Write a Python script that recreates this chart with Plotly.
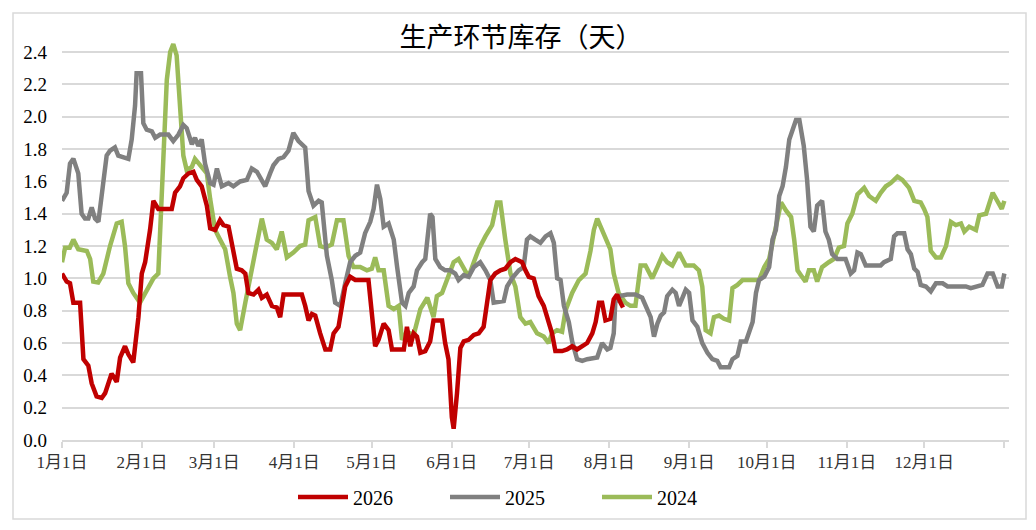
import plotly.graph_objects as go

# day of year (0 = Jan 1) and values
days_2026 = [0, 1.8, 3.1, 4.4, 7, 8.3, 10.2, 11.5, 13.4, 15.4, 16.7, 17.9, 19.2, 21.2, 22.5, 24.4, 25.7, 27.6,
             29.6, 30.9, 32.2, 34.1, 35.4, 37.3, 42.5, 43.8, 45.7, 47, 49, 50.9, 52.2, 54.1, 56.1, 57.4, 59.3,
             61.2, 62.5, 64.5, 65.8, 67.7, 69.6, 71, 72.2, 74.2, 76.1, 77.4, 79.3, 81.3, 83.2, 84.5, 85.8, 92.9,
             94.2, 95.5, 96.8, 98.1, 100, 102, 103.9, 105.2, 107.1, 108.4, 109.7, 111.6, 113.6, 118.7, 120,
             121.3, 122.6, 124.6, 126.5, 127.8, 132.4, 133.6, 134.9, 136.2, 137.5, 138.8, 140.7, 142.6, 143.9,
             147.2, 148.4, 149.7, 151, 151.7, 153, 154.3, 155.6, 157.5, 159.5, 161.4, 163.3, 164.6, 165.9,
             167.8, 169.8, 171.7, 173.7, 175.6, 178.2, 179.5, 180.8, 182.7, 184.6, 186.6, 188.5, 189.8, 191.1,
             193.7, 195.6, 197.6, 199.5, 201.5, 203.4, 205.4, 206.7, 208, 209.2, 210.5, 212.4, 213.7, 215,
             216.3, 217.3]
vals_2026 = [1.03, 0.98, 0.97, 0.85, 0.85, 0.50, 0.46, 0.35, 0.27, 0.26, 0.29, 0.36, 0.41, 0.36, 0.51, 0.58,
             0.53, 0.48, 0.76, 1.03, 1.10, 1.30, 1.48, 1.43, 1.43, 1.53, 1.57, 1.62, 1.65, 1.66, 1.61, 1.57,
             1.45, 1.31, 1.30, 1.36, 1.33, 1.32, 1.22, 1.06, 1.05, 1.03, 0.91, 0.90, 0.93, 0.88, 0.90, 0.83,
             0.82, 0.76, 0.90, 0.90, 0.83, 0.74, 0.78, 0.77, 0.66, 0.56, 0.56, 0.66, 0.70, 0.81, 0.95, 1.01,
             0.99, 0.99, 0.78, 0.58, 0.62, 0.72, 0.68, 0.56, 0.56, 0.70, 0.58, 0.66, 0.64, 0.54, 0.55, 0.61,
             0.74, 0.74, 0.60, 0.50, 0.14, 0.07, 0.29, 0.57, 0.61, 0.62, 0.65, 0.66, 0.70, 0.87, 0.99, 1.03,
             1.05, 1.06, 1.10, 1.12, 1.10, 1.05, 1.01, 1.00, 0.89, 0.83, 0.72, 0.66, 0.55, 0.55, 0.56, 0.58,
             0.56, 0.58, 0.60, 0.66, 0.73, 0.85, 0.85, 0.74, 0.75, 0.87, 0.90, 0.85, 0.82]

days_2025 = [0, 1.8, 3.1, 4.4, 6.3, 7.6, 8.9, 10.2, 11.5, 12.8, 14.1, 15.4, 17.3, 18.6, 20.5, 21.8, 23.8, 25.7,
             27, 28.3, 28.9, 30.6, 31.5, 32.8, 34.8, 36.1, 38, 41.2, 43.1, 45.1, 47, 48.3, 50.3, 51.5, 52.8,
             54.1, 55.4, 57.4, 58.7, 60, 61.9, 64.5, 66.4, 69, 71.6, 73.5, 75.5, 78.7, 80.6, 81.9, 83.9, 85.8,
             87.7, 89.6, 91.6, 94.2, 95.5, 97.4, 99.4, 100.6, 102.6, 104.5, 105.8, 107.8, 109.7, 111.6, 113.6,
             115.5, 117.4, 119.4, 120.7, 122, 123.3, 124.6, 126.5, 128.5, 129.8, 131.7, 133, 134.3, 136.2,
             137.5, 139.5, 140.7, 142.6, 143.5, 144.6, 146.5, 148.4, 150.4, 152.3, 153.6, 155.6, 157.5, 159.5,
             162, 164, 165.9, 167.2, 171.1, 172.4, 174.3, 176.9, 178.8, 180.1, 181.4, 183.3, 185.3, 187.3,
             189.2, 190.5, 191.8, 193.1, 194.4, 196.3, 197.6, 199.5, 201.5, 203.4, 207.3, 209.2, 211.2, 212.4,
             213.7, 214.3, 215.6, 218.9, 222.1, 224.7, 226.7, 228, 229.3, 230.6, 231.9, 233.2, 234.4, 236.4,
             237.7, 239, 240.3, 241.6, 242.9, 244.2, 246.1, 248, 250, 251.9, 253.8, 255.1, 258.4, 259.7, 261.6,
             262.9, 264.9, 266.2, 267.5, 268.8, 270, 272, 273.9, 275.2, 276.5, 277.8, 279.1, 280.4, 281.7, 283,
             284.3, 285.6, 287.3, 288.6, 289.9, 291.2, 292.5, 294.4, 295.7, 297, 298.3, 300.3, 303.5, 305.5,
             306.8, 308.1, 309.4, 311.3, 317.1, 318.4, 321, 322.3, 323.6, 326.2, 327.5, 328.8, 330.1, 331.4,
             332.6, 334.6, 336.5, 338.5, 341.1, 343, 350.1, 352, 354.6, 356.5, 358.5, 360.5, 362.4, 364, 365]
vals_2025 = [1.48, 1.53, 1.71, 1.74, 1.65, 1.40, 1.37, 1.37, 1.44, 1.37, 1.35, 1.51, 1.76, 1.79, 1.81, 1.76,
             1.75, 1.74, 1.86, 2.07, 2.27, 2.27, 1.96, 1.92, 1.91, 1.87, 1.89, 1.89, 1.85, 1.89, 1.95, 1.93,
             1.83, 1.87, 1.82, 1.86, 1.71, 1.59, 1.58, 1.68, 1.57, 1.59, 1.57, 1.60, 1.61, 1.68, 1.66, 1.57,
             1.65, 1.70, 1.74, 1.75, 1.79, 1.90, 1.85, 1.81, 1.54, 1.45, 1.48, 1.47, 1.14, 0.99, 0.85, 0.83,
             0.97, 1.10, 1.14, 1.16, 1.28, 1.35, 1.43, 1.58, 1.49, 1.32, 1.34, 1.24, 1.07, 0.85, 0.83, 0.91,
             0.95, 1.05, 1.10, 1.12, 1.40, 1.38, 1.12, 1.07, 1.05, 1.05, 1.03, 0.99, 1.02, 1.01, 1.07, 1.10,
             1.05, 0.99, 0.85, 0.86, 0.95, 1.00, 1.05, 1.07, 1.24, 1.26, 1.24, 1.22, 1.26, 1.28, 1.22, 1.00,
             0.99, 0.83, 0.73, 0.61, 0.50, 0.49, 0.50, 0.51, 0.60, 0.56, 0.57, 0.66, 0.85, 0.89, 0.90, 0.90,
             0.88, 0.81, 0.76, 0.64, 0.72, 0.77, 0.79, 0.89, 0.93, 0.91, 0.83, 0.88, 0.93, 0.91, 0.74, 0.70,
             0.60, 0.54, 0.50, 0.49, 0.45, 0.45, 0.50, 0.52, 0.61, 0.61, 0.67, 0.73, 0.91, 0.99, 1.01, 1.07,
             1.24, 1.30, 1.51, 1.57, 1.69, 1.86, 1.92, 1.98, 1.98, 1.82, 1.61, 1.32, 1.29, 1.45, 1.48, 1.29,
             1.24, 1.15, 1.12, 1.12, 1.03, 1.05, 1.16, 1.15, 1.08, 1.08, 1.10, 1.12, 1.26, 1.28, 1.28, 1.18,
             1.15, 1.06, 1.04, 0.96, 0.95, 0.92, 0.97, 0.97, 0.95, 0.95, 0.94, 0.95, 0.96, 1.03, 1.03, 0.95,
             0.95, 1.03]

days_2024 = [0, 1.2, 3, 4.4, 6.3, 9.6, 10.9, 12.1, 14, 16, 18.6, 21.2, 23.1, 24.4, 25.7, 27.6, 30.2, 32.8,
             35.4, 37.3, 38.6, 40.6, 41.9, 43.1, 44.4, 45.7, 47, 48.3, 50.3, 51.5, 53.5, 56.1, 57.4, 59.3, 61.2,
             63.2, 65.1, 66.4, 67.7, 69, 71, 72.9, 74.8, 77.4, 79.3, 81.3, 83.2, 85.1, 87.1, 89.6, 92.2, 94.2,
             95.5, 98.1, 100, 101.9, 104.5, 106.5, 109, 111, 112.9, 115.5, 118.1, 120, 121.3, 122.6, 124.6,
             126.5, 128.5, 130.4, 131.7, 133.6, 136.2, 138.8, 141.5, 143.9, 145.2, 147.2, 149.1, 151.7, 153.6,
             155.6, 157.5, 159.5, 161.4, 164, 166.6, 168.5, 169.8, 171.7, 173.7, 175.6, 177.5, 179.5, 181.4,
             184, 186.6, 188.5, 189.8, 191.7, 193.7, 195, 197.6, 200.2, 202.8, 204.7, 206, 207.3, 209.2, 211.2,
             212.4, 213.7, 215.6, 218.2, 220.2, 222.1, 224.1, 226, 228.6, 230.6, 232.5, 234.4, 236.4, 239,
             241.6, 244.7, 246.7, 248, 249.3, 251.2, 252.5, 254.5, 256.4, 258.4, 259.7, 261.6, 263.6, 270, 272,
             273.9, 275.9, 277.2, 278.5, 280.4, 282.4, 283.6, 284.9, 286.2, 288, 289.3, 291.2, 292.5, 294.4,
             297, 299, 300.9, 302.9, 304.2, 306.1, 308.1, 310.7, 312.6, 315.2, 317.1, 319.1, 321, 323.6, 325.5,
             328.1, 330.1, 332.6, 333.9, 335.2, 336.5, 338.5, 340.4, 342.4, 344.3, 346.2, 348.2, 349.5, 351.4,
             354, 355.3, 357.9, 360.5, 362.4, 364, 365]
vals_2024 = [1.10, 1.19, 1.19, 1.24, 1.18, 1.17, 1.12, 0.98, 0.975, 1.03, 1.20, 1.34, 1.35, 1.20, 0.97, 0.91,
             0.85, 0.92, 1.00, 1.03, 1.55, 2.23, 2.40, 2.45, 2.38, 2.05, 1.76, 1.67, 1.69, 1.74, 1.70, 1.65,
             1.49, 1.30, 1.24, 1.18, 1.01, 0.91, 0.72, 0.68, 0.85, 0.99, 1.16, 1.37, 1.24, 1.22, 1.18, 1.29,
             1.13, 1.16, 1.20, 1.21, 1.36, 1.38, 1.20, 1.19, 1.21, 1.36, 1.36, 1.14, 1.07, 1.07, 1.05, 1.06,
             1.13, 1.05, 1.05, 0.83, 0.81, 0.83, 0.62, 0.67, 0.65, 0.81, 0.88, 0.76, 0.89, 0.91, 0.99, 1.10,
             1.12, 1.06, 1.01, 1.10, 1.18, 1.26, 1.33, 1.47, 1.47, 1.24, 1.03, 0.95, 0.76, 0.72, 0.73, 0.66,
             0.64, 0.60, 0.66, 0.68, 0.67, 0.80, 0.91, 0.99, 1.03, 1.17, 1.30, 1.37, 1.30, 1.24, 1.18, 1.03,
             0.91, 0.85, 0.83, 0.83, 1.08, 1.08, 1.00, 1.07, 1.14, 1.10, 1.08, 1.16, 1.08, 1.08, 1.05, 0.95,
             0.68, 0.66, 0.76, 0.77, 0.75, 0.74, 0.94, 0.96, 0.99, 0.99, 1.07, 1.12, 1.28, 1.36, 1.47, 1.42,
             1.38, 1.24, 1.05, 1.02, 0.98, 1.05, 1.05, 0.98, 1.07, 1.10, 1.12, 1.19, 1.20, 1.34, 1.40, 1.52,
             1.56, 1.51, 1.48, 1.53, 1.57, 1.59, 1.63, 1.61, 1.56, 1.48, 1.47, 1.43, 1.38, 1.17, 1.13, 1.13,
             1.20, 1.35, 1.33, 1.34, 1.29, 1.32, 1.30, 1.39, 1.40, 1.53, 1.48, 1.43, 1.48]

month_days = [0, 31, 59, 90, 120, 151, 181, 212, 243, 273, 304, 334, 365]
month_labels = ["1月1日", "2月1日", "3月1日", "4月1日", "5月1日", "6月1日", "7月1日",
                "8月1日", "9月1日", "10月1日", "11月1日", "12月1日", ""]
y_ticks = [0.0, 0.2, 0.4, 0.6, 0.8, 1.0, 1.2, 1.4, 1.6, 1.8, 2.0, 2.2, 2.4]

series = [
    ("2026", days_2026, vals_2026, "#C00000"),
    ("2025", days_2025, vals_2025, "#808080"),
    ("2024", days_2024, vals_2024, "#9BBB59"),
]

fig = go.Figure()

# draw 2024 first so 2026 sits on top, legend keeps 2026/2025/2024 order
for name, d, v, color in reversed(series):
    fig.add_trace(go.Scatter(x=d, y=v, mode="lines", name=name,
                             line=dict(color=color, width=4.5),
                             legendrank={"2026": 1, "2025": 2, "2024": 3}[name]))

grid = "#D9D9D9"
serif = "Liberation Serif, Noto Sans CJK SC, serif"

# page body has an 8px margin, so the figure is 16px smaller than the window
W, H = 1020, 514
L, R, T, B = 54, 19, 28, 82

fig.update_layout(
    width=W, height=H,
    margin=dict(l=L, r=R, t=T, b=B, autoexpand=False),
    paper_bgcolor="white", plot_bgcolor="white",
    title=dict(text="生产环节库存（天）", x=513 / W, xanchor="center",
               y=1 - 30 / H, yanchor="middle", yref="container",
               font=dict(family="Noto Sans CJK SC", size=27, color="black")),
    xaxis=dict(range=[0, 366.8], tickmode="array", tickvals=month_days, ticktext=month_labels,
               showgrid=False, showline=True, linecolor=grid, linewidth=1.5,
               ticks="outside", ticklen=6, tickcolor=grid, tickwidth=1.5,
               tickfont=dict(family=serif, size=17, color="#333333"), zeroline=False),
    yaxis=dict(range=[0, 2.5], tickmode="array", tickvals=y_ticks,
               ticktext=[f"{t:.1f}" for t in y_ticks],
               showgrid=True, gridcolor=grid, gridwidth=1.5, zeroline=False,
               showline=False, ticks="", ticklabelstandoff=14,
               tickfont=dict(family=serif, size=19, color="black")),
    legend=dict(orientation="h", xref="container", yref="container",
                x=285 / W, xanchor="left", y=1 - 489 / H, yanchor="middle",
                entrywidth=87, entrywidthmode="pixels", itemwidth=50,
                font=dict(family=serif, size=20, color="black"),
                bgcolor="rgba(0,0,0,0)"),
    showlegend=True,
)

# light outer frame of the chart
pw, ph = W - L - R, H - T - B
fig.add_shape(type="rect", xref="paper", yref="paper",
              x0=(5 - L) / pw, x1=(1018 - L) / pw,
              y0=(H - B - 511) / ph, y1=(H - B - 5) / ph,
              line=dict(color=grid, width=1.5), fillcolor="rgba(0,0,0,0)", layer="below")

fig.write_html("out.html")
